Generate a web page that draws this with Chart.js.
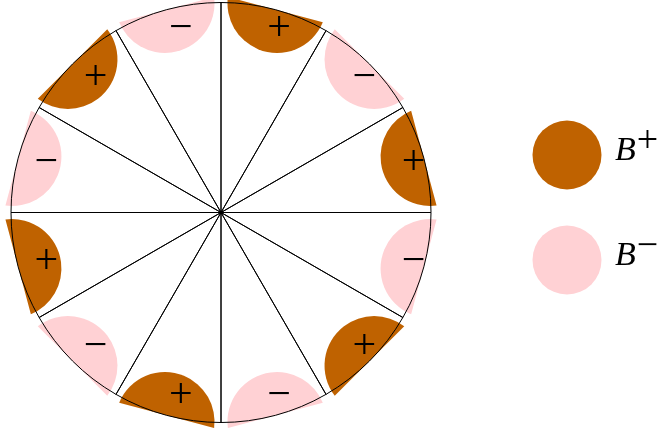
<!DOCTYPE html>
<html>
<head>
<meta charset="utf-8">
<script src="https://cdn.jsdelivr.net/npm/chart.js@4.4.1/dist/chart.umd.min.js"></script>
<style>
  html, body { margin: 0; padding: 0; background: #fff; }
</style>
</head>
<body>
<canvas id="myChart" width="659" height="438"></canvas>
<script>
// twelve equal sectors, clockwise from 12 o'clock
const sectors = ['90-60', '60-30', '30-0', '0-330', '330-300', '300-270',
                 '270-240', '240-210', '210-180', '180-150', '150-120', '120-90'];
const sectorSize = [1, 1, 1, 1, 1, 1, 1, 1, 1, 1, 1, 1];
const signs = ['+', '−', '+', '−', '+', '−', '+', '−', '+', '−', '+', '−'];

const legendNames = ['B', 'B'];
const legendSigns = ['+', '−'];

const plusColor = 'rgb(191, 98, 0)';
const minusColor = 'rgb(255, 209, 212)';

// half disks sitting on the rim of each sector, drawn under the circle lines
const halfDisks = {
  id: 'halfDisks',
  beforeDatasetsDraw(chart) {
    const ctx = chart.ctx;
    chart.getDatasetMeta(0).data.forEach((arc, i) => {
      const R = arc.outerRadius;
      const mid = (arc.startAngle + arc.endAngle) / 2;
      const a = 0.234 * R;   // half chord
      const d = 0.205 * R;   // depth
      const r = (a * a + d * d) / (2 * d);
      const off = r - d;
      const beta = Math.acos(off / r);
      const cx = arc.x + (R + off) * Math.cos(mid);
      const cy = arc.y + (R + off) * Math.sin(mid);
      ctx.save();
      ctx.fillStyle = signs[i] === '+' ? plusColor : minusColor;
      ctx.beginPath();
      ctx.arc(cx, cy, r, mid + Math.PI - beta, mid + Math.PI + beta);
      ctx.closePath();
      ctx.fill();
      ctx.restore();
    });
  },
  afterDatasetsDraw(chart) {
    const ctx = chart.ctx;
    ctx.save();
    ctx.fillStyle = '#000';
    ctx.font = '42px "Liberation Serif"';
    ctx.textAlign = 'center';
    ctx.textBaseline = 'middle';
    chart.getDatasetMeta(0).data.forEach((arc, i) => {
      const R = arc.outerRadius;
      const mid = (arc.startAngle + arc.endAngle) / 2;
      const k = R - 0.095 * R;
      const x = arc.x + k * Math.cos(mid) + 9;
      const y = arc.y + k * Math.sin(mid);
      ctx.fillText(signs[i], x, y);
    });
    ctx.restore();
  },
  afterDraw(chart) {
    const ctx = chart.ctx;
    const area = chart.chartArea;
    const cx = area.right + 125;
    const midY = (area.top + area.bottom) / 2;
    ctx.save();
    legendNames.forEach((name, i) => {
      const cy = midY + (i - 0.5) * 105 - 5;
      ctx.fillStyle = i === 0 ? plusColor : minusColor;
      ctx.beginPath();
      ctx.arc(cx, cy, 34.5, 0, Math.PI * 2);
      ctx.fill();

      ctx.fillStyle = '#000';
      ctx.textAlign = 'left';
      ctx.textBaseline = 'alphabetic';
      ctx.font = 'italic 34px "Liberation Serif"';
      const tx = cx + 48;
      ctx.fillText(name, tx, cy + 5);
      const w = ctx.measureText(name).width;
      ctx.font = '38px "Liberation Serif"';
      ctx.textBaseline = 'middle';
      ctx.fillText(legendSigns[i], tx + w + 1, cy - 13);
    });
    ctx.restore();
  }
};

const ctx = document.getElementById('myChart');
new Chart(ctx, {
  type: 'pie',
  data: {
    labels: sectors,
    datasets: [{
      data: sectorSize,
      backgroundColor: 'rgba(0, 0, 0, 0)',
      borderColor: '#000',
      borderWidth: 1
    }]
  },
  options: {
    responsive: false,
    animation: false,
    events: [],
    radius: 210,
    layout: {
      padding: { left: 0, right: 217, top: 2, bottom: 15 }
    },
    plugins: {
      legend: { display: false },
      tooltip: { enabled: false }
    }
  },
  plugins: [halfDisks]
});
</script>
</body>
</html>
